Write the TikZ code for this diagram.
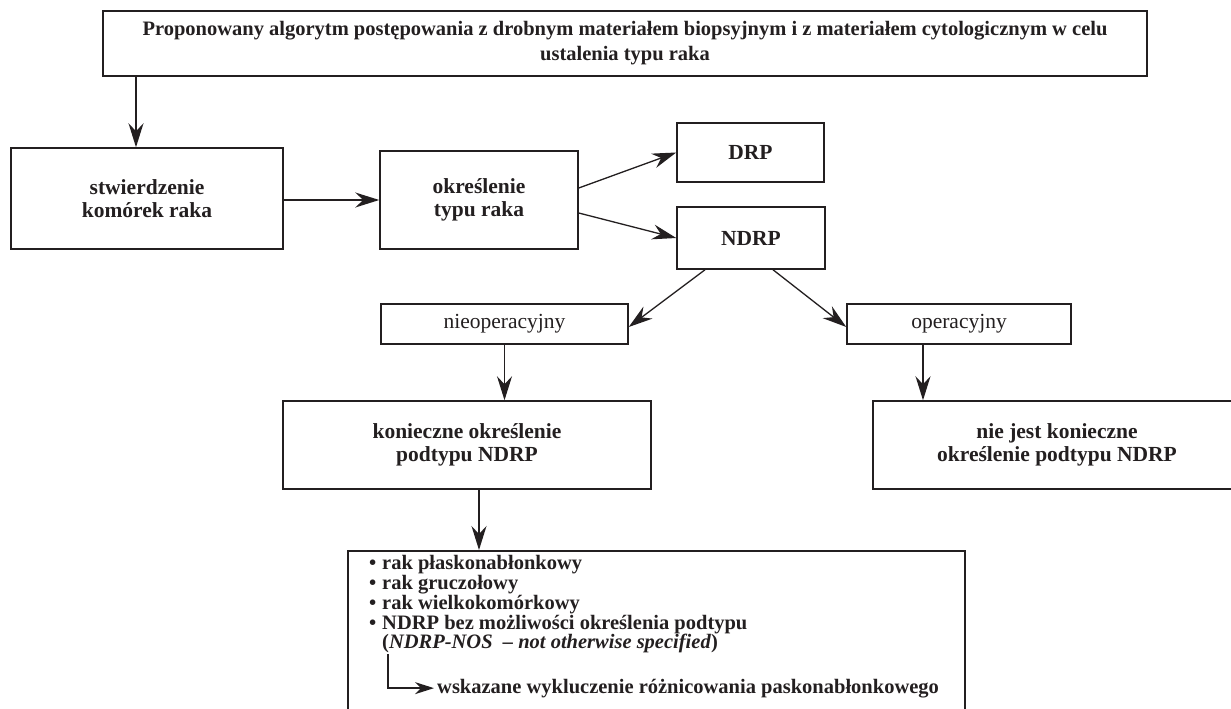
\documentclass[tikz,border=0pt]{standalone}
\usepackage{fontspec}
\setmainfont{Liberation Serif}
\usetikzlibrary{arrows.meta,calc}
\definecolor{ink}{HTML}{231F20}
\begin{document}
\begin{tikzpicture}[x=1pt,y=-1pt,
  box/.style={draw=ink, line width=1.5pt, inner sep=0pt, text=ink, align=center,
    font=\fontsize{21.5}{23}\selectfont\bfseries},
  titlebox/.style={box, font=\fontsize{20.5}{25}\selectfont\bfseries},
  plainbox/.style={box, font=\fontsize{21.5}{23}\selectfont},
  arr/.style={draw=ink, line width=1.3pt, -{Stealth[length=24pt,width=15pt,inset=8pt]}},
  smallarr/.style={draw=ink, line width=1.3pt, -{Stealth[length=19pt,width=12pt,inset=6pt]}},
  li/.style={anchor=base west, inner sep=0pt, text=ink, font=\fontsize{20.5}{20}\selectfont\bfseries}]
\useasboundingbox (0,0) rectangle (1231,709);
\clip (0,0) rectangle (1231,709);
\fill[white] (0,0) rectangle (1231,709);

\node[titlebox, minimum width=1044pt, minimum height=65pt] (title) at (625,43.5)
  {Proponowany algorytm postępowania z drobnym materiałem biopsyjnym i z materiałem cytologicznym w celu\\ustalenia typu raka};
\node[box, minimum width=272pt, minimum height=101pt] (stw) at (147,198.5) {stwierdzenie\\komórek raka};
\node[box, minimum width=198pt, minimum height=98pt] (okr) at (479,200) {określenie\\typu raka};
\node[box, minimum width=147pt, minimum height=59pt] (drp) at (750.5,152.5) {DRP};
\node[box, minimum width=148pt, minimum height=62pt] (ndrp) at (751,238) {NDRP};
\node[plainbox, minimum width=247pt, minimum height=40pt] (nieop) at (504.5,324) {nieoperacyjny};
\node[plainbox, minimum width=224pt, minimum height=40pt] (op) at (959,324) {operacyjny};
\node[box, minimum width=368pt, minimum height=88pt] (kon) at (467,445) {konieczne określenie\\podtypu NDRP};
\node[box, minimum width=368pt, minimum height=88pt] (niejest) at (1057,445) {nie jest konieczne\\określenie podtypu NDRP};
\node[draw=ink, line width=1.5pt, inner sep=0pt, anchor=north west, minimum width=617pt, minimum height=190pt] (list) at (347,550) {};

\node[li] (l1) at (369,569) {\makebox[13pt][l]{•}rak płaskonabłonkowy};
\node[li] (l2) at (369,589) {\makebox[13pt][l]{•}rak gruczołowy};
\node[li] (l3) at (369,609) {\makebox[13pt][l]{•}rak wielkokomórkowy};
\node[li] (l4) at (369,629) {\makebox[13pt][l]{•}NDRP bez możliwości określenia podtypu};
\node[li] (l5) at (382,648) {(\textit{NDRP-NOS\ \ – not otherwise specified})};
\node[li] (l6) at (437,693) {wskazane wykluczenie różnicowania paskonabłonkowego};

\draw[arr] ([xshift=-11pt]stw.north |- title.south) -- ([xshift=-11pt]stw.north);
\draw[arr] (stw.east |- okr.west) -- (okr.west);
\draw[arr] ([yshift=12pt]okr.east) -- (drp.west);
\draw[arr] ([yshift=-13pt]okr.east) -- (ndrp.west);
\draw[arr] ([xshift=-46pt]ndrp.south) -- ([yshift=-3pt]nieop.east);
\draw[arr] ([xshift=22pt]ndrp.south) -- ([yshift=-3pt]op.west);
\draw[arr] (nieop.south) -- (nieop.south |- kon.north);
\draw[arr] ([xshift=-36pt]op.south) -- ([xshift=-36pt]op.south |- niejest.north);
\draw[arr] ([xshift=12pt]kon.south) -- ([xshift=12pt]kon.south |- list.north);
\coordinate (lA) at (388,654);
\draw[smallarr] (lA) |- ([xshift=-3pt]l6.west);
\end{tikzpicture}
\end{document}
